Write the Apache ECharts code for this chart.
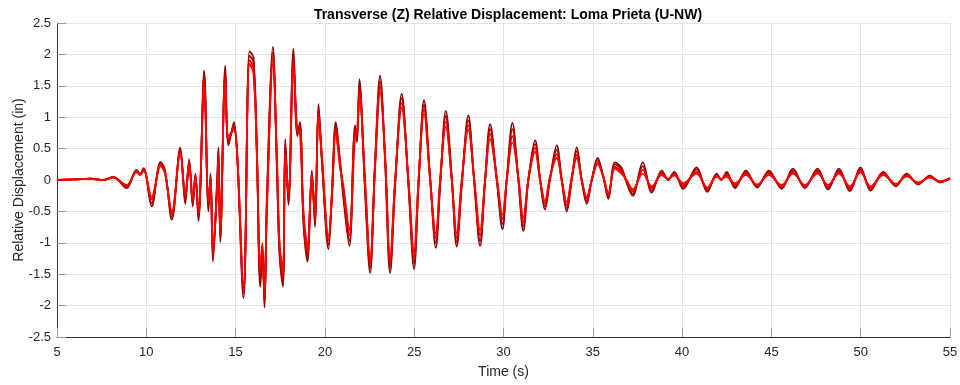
<!DOCTYPE html>
<html>
<head>
<meta charset="utf-8">
<script src="https://cdn.jsdelivr.net/npm/echarts@6/dist/echarts.min.js"></script>
<style>
  html, body { margin: 0; padding: 0; background: #fff; }
  #chart { width: 960px; height: 385px; }
</style>
</head>
<body>
<div id="chart"></div>
<script>
// time stamps (s) of the points
var times = [
  5.0, 6.0, 6.9, 7.6, 8.15, 8.9, 9.45, 9.65, 9.85, 10.3,
  10.8, 11.05, 11.43, 11.9, 12.18, 12.4, 12.6, 12.75, 12.92, 13.24,
  13.48, 13.6, 13.73, 13.98, 14.04, 14.14, 14.42, 14.6, 14.9, 15.44,
  15.78, 16.0, 16.19, 16.38, 16.5, 16.62, 16.75, 17.09, 17.31, 17.46,
  17.65, 17.78, 17.96, 18.24, 18.46, 18.6, 18.8, 19.02, 19.27, 19.45,
  19.64, 19.83, 20.2, 20.39, 20.61, 20.85, 21.04, 21.37, 21.69, 21.8,
  21.93, 22.25, 22.53, 22.81, 23.09, 23.37, 23.65, 23.93, 24.3, 24.68,
  24.99, 25.24, 25.55, 25.89, 26.21, 26.45, 26.77, 27.1, 27.38, 27.66,
  28.03, 28.35, 28.69, 28.97, 29.25, 29.62, 29.94, 30.18, 30.5, 30.83,
  31.11, 31.39, 31.77, 32.05, 32.32, 32.6, 32.98, 33.26, 33.54, 33.82,
  34.1, 34.38, 34.66, 34.94, 35.27, 35.59, 35.87, 36.24, 36.6, 36.9,
  37.23, 37.8, 38.3, 38.86, 39.22, 39.56, 40.06, 40.81, 41.41, 41.93,
  42.2, 42.49, 42.96, 43.57, 44.2, 44.86, 45.57, 46.21, 46.87, 47.58,
  48.17, 48.78, 49.39, 49.99, 50.55, 51.26, 51.97, 52.57, 53.21, 53.87,
  54.43, 55.0
];

// outermost (darkest) trace
var outerDisp = [
  0, 0.01, 0.02, 0, 0.05, -0.13, 0.16, 0.1, 0.19, -0.42,
  0.29, 0.15, -0.63, 0.52, -0.38, 0.33, -0.42, 0.1, -0.65, 1.74,
  -0.5, 0.1, -1.3, 0.1, 0.52, -0.99, 1.82, 0.55, 0.92, -1.88,
  2.05, 1.95, 0.5, -1.7, -1.2, -2.03, -0.3, 2.12, 0.2, -1.2,
  -1.7, 0.65, -0.4, 2.09, 0.7, 0.92, -0.7, -1.3, 0.15, -0.75,
  1.21, 0.3, -1.1, -0.2, 0.92, 0.3, -0.3, -1.05, 0.87, 0.6,
  1.6, -0.2, -1.48, 0.3, 1.66, 0.3, -1.48, -0.1, 1.37, -0.1,
  -1.42, -0.1, 1.27, 0.05, -1.08, -0.1, 1.1, 0.05, -1.06, -0.1,
  1.03, 0, -1.05, 0, 0.89, 0, -0.78, 0, 0.91, 0,
  -0.81, 0, 0.63, 0, -0.47, 0, 0.55, 0, -0.5, 0,
  0.52, 0, -0.38, 0, 0.35, 0.05, -0.3, 0.28, 0.2, -0.05,
  -0.25, 0.28, -0.2, 0.15, 0, 0.13, -0.14, 0.2, -0.19, 0.1,
  0, 0.13, -0.13, 0.15, -0.12, 0.15, -0.14, 0.18, -0.13, 0.18,
  -0.15, 0.18, -0.18, 0.2, -0.17, 0.13, -0.1, 0.1, -0.07, 0.07,
  -0.04, 0.03
];

var upperMidDisp = [
  0, 0.01, 0.02, 0, 0.05, -0.11, 0.15, 0.09, 0.18, -0.37,
  0.27, 0.13, -0.59, 0.49, -0.32, 0.3, -0.38, 0.08, -0.6, 1.67,
  -0.42, 0.06, -1.24, 0.03, 0.45, -0.93, 1.73, 0.6, 0.88, -1.8,
  1.98, 1.87, 0.47, -1.6, -1.13, -1.95, -0.37, 2.03, 0.27, -1.13,
  -1.62, 0.57, -0.33, 1.99, 0.73, 0.86, -0.63, -1.22, 0.12, -0.7,
  1.14, 0.33, -1.03, -0.23, 0.86, 0.27, -0.23, -0.97, 0.81, 0.67,
  1.52, -0.13, -1.4, 0.27, 1.57, 0.33, -1.4, -0.07, 1.3, -0.07,
  -1.33, -0.07, 1.2, 0.03, -1.0, -0.07, 1.02, 0.03, -0.99, -0.07,
  0.95, 0.02, -0.97, 0, 0.81, 0.02, -0.7, 0, 0.81, 0.02,
  -0.74, 0, 0.57, 0, -0.42, 0.02, 0.48, 0, -0.45, 0.02,
  0.46, 0, -0.34, 0, 0.32, 0.05, -0.27, 0.25, 0.17, -0.03,
  -0.22, 0.22, -0.17, 0.13, 0.01, 0.11, -0.11, 0.17, -0.17, 0.08,
  0.01, 0.1, -0.1, 0.13, -0.1, 0.13, -0.12, 0.15, -0.11, 0.15,
  -0.12, 0.15, -0.15, 0.17, -0.15, 0.11, -0.09, 0.09, -0.06, 0.06,
  -0.03, 0.03
];

var lowerMidDisp = [
  0, 0.01, 0.02, 0, 0.04, -0.09, 0.13, 0.09, 0.16, -0.31,
  0.24, 0.11, -0.54, 0.45, -0.25, 0.27, -0.33, 0.06, -0.55, 1.58,
  -0.35, 0.03, -1.16, -0.05, 0.37, -0.86, 1.63, 0.65, 0.84, -1.72,
  1.91, 1.78, 0.43, -1.5, -1.06, -1.87, -0.44, 1.94, 0.34, -1.06,
  -1.53, 0.48, -0.26, 1.89, 0.77, 0.8, -0.56, -1.13, 0.08, -0.65,
  1.07, 0.37, -0.96, -0.27, 0.8, 0.23, -0.16, -0.88, 0.75, 0.73,
  1.43, -0.06, -1.32, 0.23, 1.48, 0.37, -1.32, -0.03, 1.22, -0.03,
  -1.24, -0.03, 1.12, 0.02, -0.92, -0.03, 0.93, 0.02, -0.92, -0.03,
  0.87, 0.03, -0.88, 0, 0.73, 0.03, -0.62, 0, 0.7, 0.03,
  -0.67, 0, 0.51, 0, -0.37, 0.03, 0.41, 0, -0.4, 0.03,
  0.4, 0, -0.3, 0, 0.28, 0.05, -0.23, 0.21, 0.13, -0.02,
  -0.18, 0.16, -0.13, 0.1, 0.01, 0.09, -0.08, 0.13, -0.14, 0.07,
  0.01, 0.08, -0.08, 0.1, -0.09, 0.1, -0.1, 0.13, -0.1, 0.13,
  -0.1, 0.13, -0.12, 0.15, -0.12, 0.1, -0.07, 0.07, -0.05, 0.05,
  -0.03, 0.02
];

// innermost (brightest) trace
var innerDisp = [
  0, 0.01, 0.02, 0, 0.04, -0.08, 0.12, 0.08, 0.15, -0.27,
  0.22, 0.1, -0.5, 0.42, -0.2, 0.25, -0.3, 0.05, -0.5, 1.5,
  -0.3, 0, -1.1, -0.1, 0.3, -0.8, 1.55, 0.7, 0.8, -1.65,
  1.85, 1.7, 0.4, -1.4, -1.0, -1.8, -0.5, 1.85, 0.4, -1.0,
  -1.45, 0.4, -0.2, 1.8, 0.8, 0.75, -0.5, -1.05, 0.05, -0.6,
  1.0, 0.4, -0.9, -0.3, 0.75, 0.2, -0.1, -0.8, 0.7, 0.8,
  1.35, 0, -1.25, 0.2, 1.4, 0.4, -1.25, 0, 1.15, 0,
  -1.15, 0, 1.05, 0, -0.85, 0, 0.85, 0, -0.85, 0,
  0.8, 0.05, -0.8, 0, 0.65, 0.05, -0.55, 0, 0.6, 0.05,
  -0.6, 0, 0.45, 0, -0.33, 0.05, 0.35, 0, -0.35, 0.05,
  0.35, 0, -0.27, 0, 0.25, 0.05, -0.2, 0.18, 0.1, 0,
  -0.15, 0.1, -0.1, 0.08, 0.02, 0.07, -0.05, 0.1, -0.12, 0.05,
  0.02, 0.05, -0.05, 0.08, -0.07, 0.08, -0.08, 0.1, -0.08, 0.1,
  -0.08, 0.1, -0.1, 0.12, -0.1, 0.08, -0.06, 0.06, -0.04, 0.04,
  -0.02, 0.02
];

// dark traces first so the bright red ones sit on top, like the original
var traces = [
  {name: 'outer', values: outerDisp, color: '#7d0505'},
  {name: 'upperMid', values: upperMidDisp, color: '#b80000'},
  {name: 'lowerMid', values: lowerMidDisp, color: '#e00000'},
  {name: 'inner', values: innerDisp, color: '#ff0000'}
];

var myChart = echarts.init(document.getElementById('chart'));

var series = traces.map(function (tr) {
  return {
    name: tr.name,
    type: 'line',
    smooth: 0.35,
    showSymbol: false,
    symbol: 'none',
    lineStyle: {color: tr.color, width: 1.8},
    data: times.map(function (t, i) { return [t, tr.values[i]]; })
  };
});

var font = 'Liberation Sans, Arial, sans-serif';

var option = {
  animation: false,
  backgroundColor: '#fff',
  title: {
    text: 'Transverse (Z) Relative Displacement: Loma Prieta (U-NW)',
    left: 503,
    textAlign: 'center',
    top: 3,
    textStyle: {
      fontFamily: font,
      fontSize: 14,
      fontWeight: 'bold',
      color: '#000'
    }
  },
  grid: {
    left: 57,
    right: 10,
    top: 23,
    bottom: 48,
    outerBoundsMode: 'none'
  },
  xAxis: {
    type: 'value',
    min: 5,
    max: 55,
    interval: 5,
    name: 'Time (s)',
    nameLocation: 'middle',
    nameGap: 28,
    nameMoveOverlap: false,
    nameTextStyle: {fontFamily: font, fontSize: 14, color: '#262626'},
    axisLine: {onZero: false, lineStyle: {color: '#333', width: 1}},
    axisTick: {inside: true, length: 9, lineStyle: {color: '#999'}},
    axisLabel: {fontFamily: font, fontSize: 13, color: '#262626', margin: 9},
    splitLine: {show: true, lineStyle: {color: '#e3e3e3', width: 1}}
  },
  yAxis: {
    type: 'value',
    min: -2.5,
    max: 2.5,
    interval: 0.5,
    name: 'Relative Displacement (in)',
    nameLocation: 'middle',
    nameGap: 31,
    nameMoveOverlap: false,
    nameTextStyle: {fontFamily: font, fontSize: 14, color: '#262626'},
    axisLine: {show: true, onZero: false, lineStyle: {color: '#333', width: 1}},
    axisTick: {show: true, inside: true, length: 9, lineStyle: {color: '#999'}},
    axisLabel: {fontFamily: font, fontSize: 13, color: '#262626', margin: 6},
    splitLine: {show: true, lineStyle: {color: '#e3e3e3', width: 1}}
  },
  series: series
};

myChart.setOption(option);
</script>
</body>
</html>
